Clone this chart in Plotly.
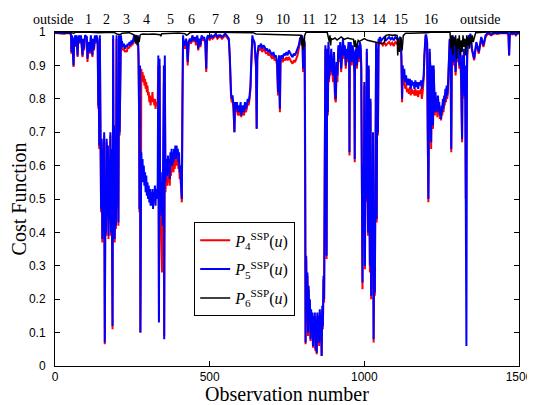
import plotly.graph_objects as go

# ---------------------------------------------------------
# Data (observation number vs cost function)
# ---------------------------------------------------------

# observation numbers shared by the P4 and P5 curves
obs = [
    0, 10, 20, 30, 40, 50,
    52, 53, 55, 60, 62, 66, 67, 70, 73, 75, 79, 81, 84, 89, 91, 94, 97, 103, 105, 108,
    113, 116, 121, 123, 126, 129, 131, 134, 137,
    138, 140, 141, 143, 145, 147, 149, 151, 153, 155, 157, 159, 160, 161, 163, 165, 167,
    169, 171, 173, 175, 177, 179, 181, 183, 185, 186, 187, 188, 190, 191, 193, 195, 197,
    199, 200, 201, 203, 205, 206, 207, 209, 211, 213, 215,
    217, 220, 223, 226, 229, 232, 235, 238, 241, 244, 247, 250, 253, 256, 259, 262, 265,
    266, 268, 270, 272, 273, 275, 276, 278, 279, 281, 283, 285, 287, 289, 291, 293, 295,
    297, 299, 301, 303, 305, 307, 309, 311, 313, 315, 317, 319, 321, 323, 325, 327, 330,
    332, 334, 336, 338, 340, 342, 344, 346, 348, 350, 352, 353, 355, 357, 359,
    361, 363, 365, 367, 369, 371, 373, 375, 377, 379, 381, 383, 385, 387, 389, 391, 393,
    395, 397, 399, 401, 403, 405, 407, 409, 410, 412, 414,
    416, 420, 424, 427, 429, 432, 436, 440, 444, 448, 452, 456, 460, 463, 466, 470, 474,
    478, 482, 486, 489, 490, 492, 495, 500, 505, 510, 515, 520, 525, 530, 535, 540, 545,
    550, 555, 560,
    562, 565, 567, 569, 571, 574, 577, 580, 582, 585, 588, 591, 594, 597, 600, 602, 605,
    608, 611, 614, 617, 620, 623, 626, 629, 632, 634, 636, 638, 640,
    645, 650, 652, 654, 658, 662, 666, 670, 674, 678, 682, 686, 690, 694, 698, 702, 706,
    710, 714, 718, 721, 722, 724, 727, 729, 732, 736, 740, 744, 748, 752, 756, 760, 764,
    768, 772, 776, 780, 784, 788, 792, 795,
    797, 800, 802, 804, 807, 809, 810, 812, 814, 816, 818, 820, 822, 824, 826, 828, 830,
    832, 834, 836, 838, 840, 842, 844, 846, 848, 850, 852, 854, 856, 858, 860, 862, 864,
    866, 868, 870, 872, 874,
    876, 878, 880, 882, 884, 886, 888, 890, 893, 896, 899, 902, 905, 908, 910, 913, 916,
    919, 922, 925, 928, 931, 934, 937, 940, 943, 946, 949, 951, 952, 953, 956, 959, 962,
    965, 968, 969, 970, 973, 976, 979, 982, 985,
    988, 990, 992, 994, 996, 998, 1000, 1002, 1004, 1006, 1008, 1010, 1012, 1014, 1016,
    1018, 1020, 1022, 1024, 1026, 1028, 1030, 1032, 1034, 1036, 1038, 1040, 1042, 1044,
    1046, 1048,
    1050, 1055, 1060, 1065, 1070, 1075, 1080, 1085, 1090, 1095, 1100, 1105, 1110, 1115, 1118,
    1120, 1122, 1124, 1126, 1129, 1132, 1135, 1138, 1141, 1144, 1147, 1150, 1153, 1156,
    1159, 1162, 1165, 1168, 1171, 1174, 1177, 1180, 1183, 1186, 1189, 1192, 1194, 1196, 1198,
    1200, 1203, 1205, 1207, 1209, 1211, 1214, 1216, 1218, 1220, 1222, 1224, 1226, 1228,
    1230, 1232, 1234, 1236, 1238, 1240, 1242, 1244, 1246, 1248, 1250, 1252, 1254, 1256,
    1258, 1260, 1262, 1264, 1266, 1268, 1270, 1272, 1274,
    1276, 1279, 1281, 1283, 1286, 1289, 1292, 1295, 1298, 1301, 1304, 1307, 1310, 1313,
    1316, 1318, 1320, 1322, 1324, 1326, 1328, 1330, 1332, 1334, 1337, 1340, 1343,
    1348, 1355, 1362, 1370, 1378, 1385, 1392, 1400, 1410, 1420, 1430, 1440, 1450, 1460,
    1466, 1468, 1470, 1475, 1480, 1485, 1490, 1495, 1500,
]

p5 = [
    0.998, 0.997, 0.998, 0.996, 0.998, 0.997,
    0.99, 0.94, 0.99, 0.90, 0.98, 0.99, 0.96, 0.99, 0.93, 0.98, 0.99, 0.97, 0.99, 0.93,
    0.98, 0.95, 0.99, 0.985, 0.92, 0.97, 0.94, 0.99, 0.93, 0.98, 0.95, 0.99, 0.97, 0.99, 0.98,
    0.97, 0.78, 0.9, 0.66, 0.99, 0.72, 0.47, 0.68, 0.38, 0.65, 0.42, 0.70, 0.12, 0.07, 0.55,
    0.40, 0.68, 0.45, 0.66, 0.39, 0.62, 0.44, 0.70, 0.40, 0.65, 0.38, 0.12, 0.55, 0.99, 0.45,
    0.72, 0.38, 0.62, 0.42, 0.99, 0.70, 0.48, 0.68, 0.43, 0.62, 0.99, 0.70, 0.96, 0.99, 0.97,
    0.97, 0.955, 0.965, 0.95, 0.96, 0.955, 0.965, 0.96, 0.97, 0.96, 0.975, 0.965, 0.98,
    0.99, 0.975, 0.99, 0.985,
    0.97, 0.99, 0.93, 0.75, 0.47, 0.9, 0.1, 0.5, 0.64, 0.57, 0.62, 0.55, 0.6, 0.54, 0.58,
    0.52, 0.57, 0.51, 0.55, 0.5, 0.54, 0.49, 0.53, 0.48, 0.52, 0.48, 0.53, 0.47, 0.52, 0.5,
    0.54, 0.48, 0.53, 0.5, 0.55, 0.93, 0.13, 0.92, 0.5, 0.58, 0.45, 0.55, 0.42, 0.57, 0.9,
    0.08, 0.93, 0.55, 0.6,
    0.62, 0.57, 0.63, 0.58, 0.62, 0.56, 0.64, 0.6, 0.65, 0.6, 0.64, 0.61, 0.65, 0.62, 0.66,
    0.62, 0.66, 0.63, 0.65, 0.61, 0.64, 0.58, 0.6, 0.55, 0.52, 0.5, 0.8, 0.99,
    0.97, 0.96, 0.98, 0.95, 0.91, 0.97, 0.98, 0.97, 0.99, 0.975, 0.985, 0.97, 0.99, 0.95,
    0.98, 0.96, 0.99, 0.98, 0.985, 0.97, 0.89, 0.94, 0.985, 0.99, 0.98, 0.99, 0.985, 0.99,
    0.995, 0.985, 0.99, 0.99, 0.985, 0.99, 0.995, 0.99, 0.985,
    0.98, 0.93, 0.84, 0.82, 0.8, 0.81, 0.78, 0.7, 0.79, 0.77, 0.79, 0.76, 0.78, 0.76, 0.79,
    0.75, 0.77, 0.78, 0.76, 0.79, 0.77, 0.78, 0.8, 0.79, 0.81, 0.84, 0.9, 0.96, 0.99, 0.98,
    0.97, 0.9, 0.71, 0.93, 0.96, 0.955, 0.965, 0.95, 0.96, 0.955, 0.945, 0.95, 0.94, 0.945,
    0.935, 0.93, 0.94, 0.925, 0.93, 0.91, 0.82, 0.9, 0.93, 0.77, 0.92, 0.93, 0.92, 0.935,
    0.93, 0.94, 0.93, 0.945, 0.935, 0.93, 0.925, 0.935, 0.93, 0.94, 0.945, 0.96, 0.98, 0.99,
    0.99, 0.985, 0.89, 0.98, 0.97, 0.6, 0.07, 0.33, 0.15, 0.28, 0.1, 0.24, 0.13, 0.2, 0.08,
    0.17, 0.12, 0.16, 0.06, 0.15, 0.09, 0.16, 0.05, 0.14, 0.04, 0.16, 0.1, 0.15, 0.07, 0.17,
    0.11, 0.15, 0.03, 0.18, 0.12, 0.27, 0.2, 0.6, 0.96,
    0.9, 0.33, 0.95, 0.76, 0.97, 0.86, 0.93, 0.88, 0.95, 0.9, 0.87, 0.94, 0.82, 0.8, 0.91,
    0.87, 0.96, 0.92, 0.97, 0.89, 0.95, 0.98, 0.93, 0.96, 0.9, 0.95, 0.92, 0.97, 0.9, 0.64,
    0.93, 0.97, 0.91, 0.96, 0.94, 0.88, 0.62, 0.93, 0.95, 0.9, 0.96, 0.92, 0.97,
    0.96, 0.9, 0.55, 0.25, 0.6, 0.4, 0.85, 0.3, 0.7, 0.5, 0.95, 0.56, 0.4, 0.9, 0.6, 0.3,
    0.8, 0.21, 0.45, 0.3, 0.7, 0.08, 0.35, 0.22, 0.6, 0.97, 0.44, 0.95, 0.7, 0.98, 0.97,
    0.985, 0.975, 0.98, 0.985, 0.975, 0.98, 0.985, 0.978, 0.983, 0.975, 0.985, 0.98, 0.975,
    0.985, 0.98,
    0.92, 0.8, 0.9, 0.86, 0.89, 0.85, 0.87, 0.84, 0.86, 0.84, 0.86, 0.83, 0.855, 0.84, 0.85,
    0.83, 0.855, 0.835, 0.85, 0.83, 0.85, 0.84, 0.855, 0.83, 0.85, 0.87, 0.93, 0.98, 0.99,
    0.99, 0.97, 0.7, 0.5, 0.75, 0.95, 0.88, 0.67, 0.9, 0.78, 0.72, 0.9, 0.8, 0.76, 0.82,
    0.78, 0.8, 0.76, 0.81, 0.78, 0.79, 0.75, 0.77, 0.74, 0.78, 0.76, 0.8, 0.77, 0.81, 0.79,
    0.83, 0.8, 0.84, 0.81, 0.83, 0.9, 0.97,
    0.98, 0.9, 0.65, 0.95, 0.99, 0.91, 0.97, 0.88, 0.96, 0.92, 0.98, 0.9, 0.95, 0.86, 0.68,
    0.93, 0.85, 0.95, 0.81, 0.9, 0.2, 0.06, 0.93, 0.97, 0.99, 0.985, 0.995,
    0.95, 0.92, 0.97, 0.94, 0.985, 0.96, 0.99, 0.998, 0.992, 0.998, 0.996, 0.998, 0.997,
    0.998, 0.995, 0.93, 0.99, 0.998, 0.995, 0.998, 0.992, 0.998, 0.997,
]

p4 = [
    0.997, 0.996, 0.997, 0.995, 0.997, 0.996,
    0.985, 0.935, 0.985, 0.895, 0.975, 0.985, 0.955, 0.985, 0.925, 0.975, 0.985, 0.965,
    0.985, 0.925, 0.975, 0.945, 0.985, 0.98, 0.91, 0.965, 0.935, 0.985, 0.925, 0.975, 0.945,
    0.985, 0.965, 0.985, 0.975,
    0.96, 0.77, 0.89, 0.65, 0.98, 0.71, 0.46, 0.67, 0.37, 0.64, 0.41, 0.69, 0.12, 0.065,
    0.54, 0.39, 0.67, 0.44, 0.65, 0.38, 0.61, 0.43, 0.69, 0.39, 0.64, 0.37, 0.11, 0.54, 0.98,
    0.43, 0.71, 0.37, 0.61, 0.41, 0.98, 0.69, 0.47, 0.67, 0.42, 0.6, 0.98, 0.69, 0.95, 0.98,
    0.96,
    0.96, 0.945, 0.95, 0.94, 0.945, 0.94, 0.955, 0.95, 0.96, 0.955, 0.965, 0.96, 0.975,
    0.985, 0.97, 0.985, 0.98,
    0.96, 0.98, 0.92, 0.74, 0.46, 0.88, 0.1, 0.5, 0.89, 0.86, 0.88, 0.85, 0.87, 0.84, 0.86,
    0.83, 0.85, 0.82, 0.84, 0.81, 0.82, 0.79, 0.81, 0.78, 0.8, 0.79, 0.82, 0.79, 0.8, 0.78,
    0.8, 0.77, 0.79, 0.78, 0.8, 0.9, 0.14, 0.9, 0.48, 0.45, 0.35, 0.28, 0.4, 0.5, 0.85,
    0.09, 0.9, 0.52, 0.56,
    0.58, 0.54, 0.59, 0.55, 0.58, 0.54, 0.6, 0.57, 0.61, 0.58, 0.6, 0.58, 0.62, 0.59, 0.62,
    0.6, 0.63, 0.6, 0.62, 0.59, 0.61, 0.56, 0.58, 0.53, 0.5, 0.49, 0.78, 0.98,
    0.965, 0.95, 0.975, 0.94, 0.9, 0.96, 0.975, 0.965, 0.985, 0.97, 0.98, 0.96, 0.985, 0.945,
    0.975, 0.955, 0.985, 0.975, 0.98, 0.965, 0.88, 0.935, 0.98, 0.985, 0.975, 0.985, 0.98,
    0.985, 0.99, 0.98, 0.985, 0.985, 0.98, 0.985, 0.99, 0.985, 0.98,
    0.975, 0.92, 0.83, 0.81, 0.79, 0.795, 0.77, 0.7, 0.775, 0.76, 0.775, 0.75, 0.765, 0.75,
    0.775, 0.745, 0.76, 0.77, 0.75, 0.78, 0.76, 0.77, 0.79, 0.78, 0.8, 0.83, 0.89, 0.95,
    0.98, 0.975,
    0.965, 0.89, 0.71, 0.92, 0.95, 0.945, 0.955, 0.94, 0.95, 0.945, 0.935, 0.94, 0.93, 0.935,
    0.925, 0.92, 0.93, 0.915, 0.92, 0.9, 0.81, 0.89, 0.92, 0.76, 0.91, 0.92, 0.91, 0.92,
    0.915, 0.925, 0.915, 0.925, 0.915, 0.91, 0.905, 0.915, 0.91, 0.92, 0.93, 0.95, 0.975,
    0.985,
    0.985, 0.98, 0.88, 0.975, 0.965, 0.58, 0.065, 0.32, 0.14, 0.27, 0.09, 0.23, 0.12, 0.19,
    0.075, 0.16, 0.11, 0.15, 0.055, 0.14, 0.08, 0.15, 0.045, 0.13, 0.035, 0.15, 0.09, 0.14,
    0.06, 0.16, 0.1, 0.14, 0.03, 0.17, 0.11, 0.26, 0.19, 0.58, 0.95,
    0.89, 0.32, 0.94, 0.75, 0.96, 0.85, 0.92, 0.87, 0.94, 0.89, 0.85, 0.93, 0.8, 0.79, 0.9,
    0.85, 0.95, 0.91, 0.96, 0.88, 0.94, 0.97, 0.92, 0.95, 0.89, 0.94, 0.91, 0.96, 0.89, 0.63,
    0.92, 0.96, 0.9, 0.95, 0.93, 0.87, 0.61, 0.92, 0.94, 0.89, 0.95, 0.91, 0.96,
    0.95, 0.89, 0.54, 0.23, 0.58, 0.39, 0.84, 0.29, 0.68, 0.49, 0.94, 0.55, 0.39, 0.89, 0.58,
    0.28, 0.79, 0.2, 0.44, 0.29, 0.68, 0.07, 0.34, 0.21, 0.59, 0.96, 0.43, 0.94, 0.69, 0.97,
    0.96,
    0.975, 0.965, 0.96, 0.968, 0.96, 0.965, 0.97, 0.962, 0.968, 0.958, 0.97, 0.965, 0.96,
    0.975, 0.97,
    0.91, 0.79, 0.88, 0.84, 0.86, 0.83, 0.84, 0.82, 0.83, 0.815, 0.835, 0.81, 0.83, 0.815,
    0.825, 0.81, 0.83, 0.81, 0.825, 0.805, 0.825, 0.815, 0.83, 0.8, 0.825, 0.86, 0.92, 0.975,
    0.985,
    0.985, 0.965, 0.69, 0.49, 0.74, 0.94, 0.87, 0.65, 0.89, 0.77, 0.71, 0.89, 0.79, 0.75,
    0.81, 0.77, 0.79, 0.745, 0.8, 0.77, 0.78, 0.74, 0.76, 0.735, 0.77, 0.75, 0.79, 0.76,
    0.8, 0.78, 0.82, 0.79, 0.83, 0.8, 0.82, 0.89, 0.96,
    0.975, 0.89, 0.64, 0.94, 0.985, 0.9, 0.96, 0.87, 0.95, 0.91, 0.97, 0.89, 0.94, 0.85,
    0.67, 0.92, 0.84, 0.94, 0.8, 0.89, 0.5, 0.8, 0.92, 0.96, 0.985, 0.98, 0.99,
    0.945, 0.915, 0.965, 0.935, 0.98, 0.955, 0.985, 0.996, 0.99, 0.996, 0.994, 0.996, 0.995,
    0.996, 0.993, 0.93, 0.988, 0.996, 0.993, 0.996, 0.99, 0.996, 0.995,
]

# P6 stays close to 1 with small dips
p6_obs = [
    0, 40, 55, 60, 65, 100, 140, 190, 200, 210, 217, 240, 258, 260, 263, 266, 269, 272,
    275, 278, 285, 300, 320, 340, 342, 345, 360, 380, 400, 420, 425, 430, 436, 450, 500,
    560, 600, 640, 650, 680, 710, 740, 767, 780, 795, 797, 799, 801, 803, 805, 807, 812,
    850, 880, 887, 889, 891, 893, 897, 905, 912, 920, 925, 935, 945, 955, 965, 968, 971,
    974, 977, 980, 984, 990, 1000, 1010, 1020, 1030, 1040, 1050, 1058, 1064, 1070, 1080,
    1090, 1100, 1106, 1108, 1110, 1114, 1118, 1122, 1126, 1130, 1133, 1150, 1170, 1190,
    1203, 1220, 1250, 1277, 1280, 1283, 1286, 1289, 1292, 1295, 1298, 1301, 1304, 1307,
    1310, 1313, 1316, 1319, 1322, 1325, 1328, 1331, 1334, 1337, 1340, 1343, 1346, 1349,
    1352, 1360, 1400, 1450, 1500,
]
p6 = [
    1.0, 1.0, 0.998, 0.996, 0.999, 1.0, 0.998, 0.999, 0.994, 0.992, 0.996, 0.998, 0.99,
    0.965, 0.99, 0.962, 0.985, 0.97, 0.99, 0.993, 0.994, 0.993, 0.994, 0.992, 0.987, 0.995,
    0.996, 0.996, 0.997, 0.995, 0.99, 0.993, 0.998, 1.0, 1.0,
    1.0, 1.0, 0.998, 0.994, 0.993, 0.994, 0.992, 0.991, 0.99, 0.99, 0.96, 0.985, 0.947,
    0.98, 0.955, 0.99, 1.0,
    1.0, 0.999, 0.97, 0.99, 0.96, 0.98, 0.978, 0.982, 0.976, 0.98, 0.985, 0.978, 0.982,
    0.98, 0.978, 0.955, 0.975, 0.95, 0.97, 0.975, 0.972, 0.975, 0.98, 0.975, 0.973, 0.972,
    0.97, 0.968, 0.965, 0.968, 0.99, 0.992, 0.99, 0.991, 0.99, 0.93, 0.98, 0.94, 0.985,
    0.945, 0.99, 0.993, 0.996, 0.996, 0.996, 0.996,
    0.998, 1.0, 1.0, 0.999, 0.95, 0.99, 0.93, 0.985, 0.96, 0.99, 0.92, 0.98, 0.95, 0.99,
    0.93, 0.975, 0.94, 0.99, 0.955, 0.98, 0.93, 0.99, 0.96, 0.985, 0.95, 0.99, 0.965, 0.99,
    0.97, 0.998, 1.0, 1.0, 1.0,
]

assert len(obs) == len(p4) == len(p5)
assert len(p6_obs) == len(p6)

# zone labels along the top and their centres (observation number)
zone_labels = ["outside", "1", "2", "3", "4", "5", "6", "7", "8", "9", "10", "11",
               "12", "13", "14", "15", "16", "outside"]
zone_centres = [-5, 107, 168, 232, 296, 373, 440, 520, 588, 661, 738, 818,
                889, 975, 1046, 1120, 1216, 1373]

SERIF = "Liberation Serif, Times New Roman, serif"
SANS = "Liberation Sans, Arial, sans-serif"

# ---------------------------------------------------------
# Figure
# ---------------------------------------------------------

fig = go.Figure()

fig.add_trace(go.Scatter(
    x=obs, y=p4, mode="lines", line=dict(color="#ff0000", width=2),
    legendgroup="p4", name="<i>P</i><sub>4</sub><sup>SSP</sup>(<i>u</i>)"
))
fig.add_trace(go.Scatter(
    x=obs, y=p5, mode="lines", line=dict(color="#0000ff", width=2),
    legendgroup="p5", name="<i>P</i><sub>5</sub><sup>SSP</sup>(<i>u</i>)"
))
fig.add_trace(go.Scatter(
    x=p6_obs, y=p6, mode="lines", line=dict(color="black", width=1.5),
    legendgroup="p6", name="<i>P</i><sub>6</sub><sup>SSP</sup>(<i>u</i>)"
))

for label, centre in zip(zone_labels, zone_centres):
    fig.add_annotation(
        x=centre / 1500, y=1, xref="paper", yref="paper",
        text=label, showarrow=False, xanchor="center", yanchor="bottom",
        yshift=4, borderpad=0,
        font=dict(family=SERIF, size=14, color="black")
    )

# the page body adds an 8 px margin, so the plot area is shifted by 8 px
fig.update_layout(
    template="none",
    width=535,
    height=397,
    margin=dict(l=47, r=24, t=24, b=39),
    paper_bgcolor="white",
    plot_bgcolor="white",
    legend=dict(
        x=0.30, y=0.43, xanchor="left", yanchor="top",
        bgcolor="white", bordercolor="black", borderwidth=1,
        tracegroupgap=5,
        font=dict(family=SERIF, size=16, color="black")
    ),
)

fig.update_xaxes(
    range=[0, 1500], tickvals=[0, 500, 1000, 1500],
    ticks="inside", ticklen=5, tickcolor="black", ticklabelstandoff=0,
    showline=True, linecolor="black", linewidth=1, mirror="ticks",
    showgrid=False, zeroline=False,
    tickfont=dict(family=SANS, size=12, color="black"),
    title=dict(text="Observation number", font=dict(family=SERIF, size=20, color="black"),
               standoff=2)
)
fig.update_yaxes(
    range=[0, 1], tick0=0, dtick=0.1,
    ticks="inside", ticklen=5, tickcolor="black", ticklabelstandoff=6,
    showline=True, linecolor="black", linewidth=1, mirror="ticks",
    showgrid=False, zeroline=False,
    tickfont=dict(family=SANS, size=12, color="black"),
    title=dict(text="Cost Function", font=dict(family=SERIF, size=20, color="black"),
               standoff=2)
)

fig.write_html("out.html")
